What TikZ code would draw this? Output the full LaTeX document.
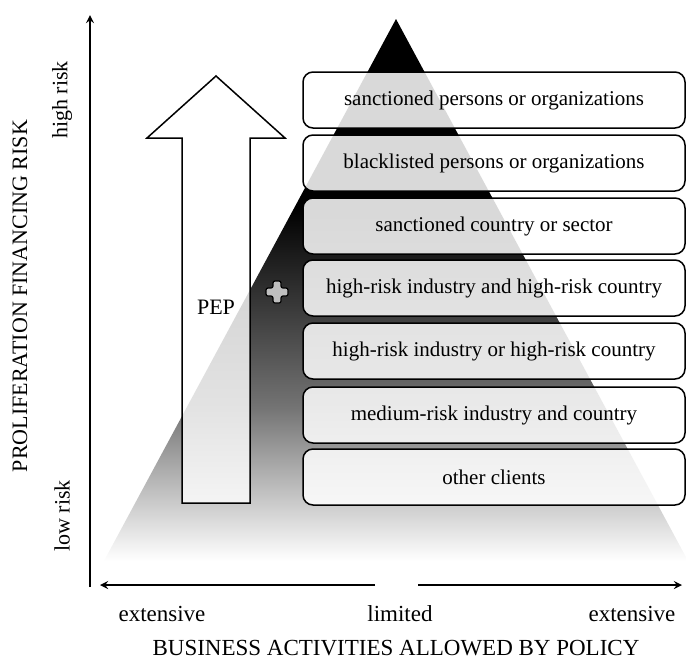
\documentclass[tikz,border=0pt]{standalone}
\usepackage{fontspec}
\setmainfont{Liberation Serif}
\usetikzlibrary{arrows,positioning}

% dark top, fading to white towards the base
\pgfdeclareverticalshading{pyramid}{100bp}{color(0bp)=(white); color(26bp)=(white); color(40bp)=(black!55); color(50bp)=(black!80); color(58bp)=(black); color(100bp)=(black)}

\begin{document}
\begin{tikzpicture}[
  x=0.5pt, y=-0.5pt,
  axis/.style={->, >=stealth, line width=0.8pt},
  level/.style={draw, rounded corners=5pt, line width=0.75pt, fill=white, fill opacity=0.85, text opacity=1,
    minimum width=191pt, minimum height=28pt, font=\fontsize{10.5}{12}\selectfont},
  lbl/.style={font=\fontsize{11}{13}\selectfont},
  tick/.style={font=\fontsize{11.5}{13}\selectfont},
  bigarrow/.style={draw, line width=0.75pt, fill=white, fill opacity=0.8},
  plus/.style={draw=black, line width=0.6pt, fill=black!25, rounded corners=1pt}
]
\useasboundingbox (0,0) rectangle (686,659);

% pyramid
\begin{scope}
\clip (0,0) rectangle (686,659);
\shade[shading=pyramid] (396,19) -- (694,572) -- (98,572) -- cycle;
\end{scope}

% axes
\coordinate (origin) at (90,587);
\coordinate (ytop) at (90,15);
\coordinate (gapL) at (375,585);
\coordinate (gapR) at (418,585);
\coordinate (xleft) at (100,585);
\coordinate (xright) at (682,585);
\draw[axis] (origin) -- (ytop);
\draw[axis] (gapL) -- (xleft);
\draw[axis] (gapR) -- (xright);

% PEP arrow
\draw[bigarrow] (182,503) -- (182,138) -- (147,138) -- (216,76) -- (285,138) -- (250,138) -- (250,503) -- cycle;
\node[lbl] (pep) at (216,307) {PEP};
\draw[plus] (273,281) -- (281,281) -- (281,288) -- (288,288) -- (288,296) -- (281,296) -- (281,303)
  -- (273,303) -- (273,296) -- (266,296) -- (266,288) -- (273,288) -- cycle;

% client levels
\node[level] (sanct) at (494,100) {sanctioned persons or organizations};
\node[level] (black) at (494,163) {blacklisted persons or organizations};
\node[level] (sector) at (494,226) {sanctioned country or sector};
\node[level] (hiand) at (494,288) {high-risk industry and high-risk country};
\node[level] (hior) at (494,351) {high-risk industry or high-risk country};
\node[level] (medium) at (494,415) {medium-risk industry and country};
\node[level] (other) at (494,477) {other clients};

% axis labels
\node[lbl, rotate=90] (highrisk) at (62,100) {high risk};
\node[lbl, rotate=90] (lowrisk) at (62,516) {low risk};
\node[lbl, rotate=90] (ytitle) at (20,296) {PROLIFERATION FINANCING RISK};
\node[tick] (extL) at (162,614) {extensive};
\node[tick] (limited) at (400,614) {limited};
\node[tick] (extR) at (632,614) {extensive};
\node[tick, inner sep=1pt] (xtitle) at (396,648) {BUSINESS ACTIVITIES ALLOWED BY POLICY};
\end{tikzpicture}
\end{document}
